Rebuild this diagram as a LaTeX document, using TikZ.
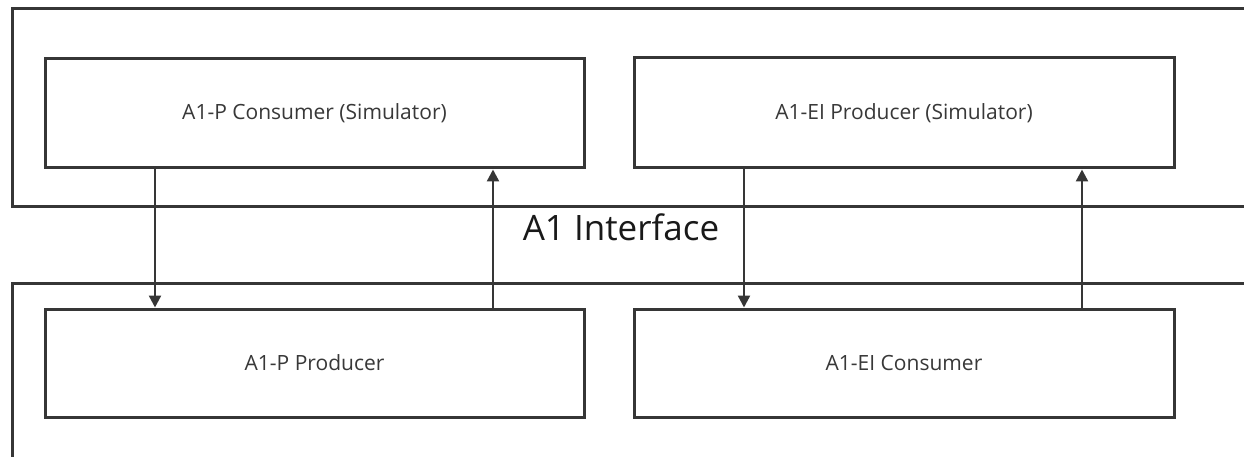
\documentclass[tikz,border=0pt]{standalone}
\usepackage{fontspec}
\setmainfont{Open Sans}
\usetikzlibrary{arrows.meta}
\definecolor{edge}{HTML}{363636}
\definecolor{ink}{HTML}{383838}
\begin{document}
\begin{tikzpicture}[x=1pt,y=-1pt,
  block/.style={draw=edge,line width=3pt,fill=white,inner sep=0pt,font=\fontsize{21}{24}\selectfont,text=ink},
  flow/.style={draw=edge,line width=2.4pt,-{Triangle[length=12pt,width=12pt]}},
  frame/.style={draw=edge,line width=3pt}]
\useasboundingbox (0,0) rectangle (1244,457);
% outer frames (open towards the right and bottom edges)
\draw[frame] (1250,9) -- (12,9) -- (12,206) -- (1250,206);
\draw[frame] (1250,283) -- (12,283) -- (12,460);
% simulator side
\node[block,minimum width=539pt,minimum height=109pt] (pcons) at (314.5,113.5) {A1-P Consumer (Simulator)};
\node[block,minimum width=540pt,minimum height=110pt] (eiprod) at (904,113) {A1-EI Producer (Simulator)};
% system side
\node[block,minimum width=539pt,minimum height=108pt] (pprod) at (314.5,363) {A1-P Producer};
\node[block,minimum width=540pt,minimum height=108pt] (eicons) at (904,363) {A1-EI Consumer};
% interface label
\node[font=\fontsize{35}{40}\selectfont,text=black!90] (iface) at (621,227) {A1 Interface};
% message flows
\draw[flow] (pcons.south -| 155,0) -- (pprod.north -| 155,0);
\draw[flow] (pprod.north -| 493,0) -- (pcons.south -| 493,0);
\draw[flow] (eiprod.south -| 744,0) -- (eicons.north -| 744,0);
\draw[flow] (eicons.north -| 1082,0) -- (eiprod.south -| 1082,0);
\end{tikzpicture}
\end{document}
